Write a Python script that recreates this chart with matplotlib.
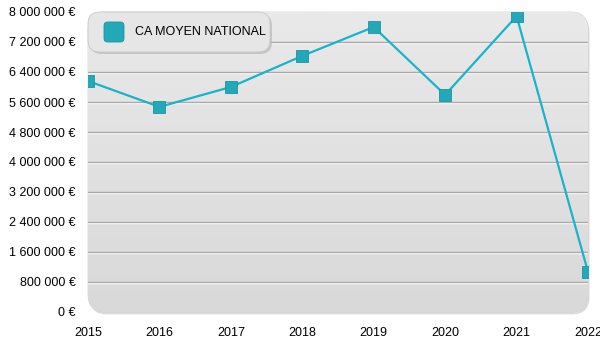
import numpy as np
import matplotlib.pyplot as plt
from matplotlib.patches import FancyBboxPatch
from matplotlib.transforms import offset_copy

plt.rcParams['font.family'] = ['Liberation Sans', 'DejaVu Sans']

years = [2015, 2016, 2017, 2018, 2019, 2020, 2021, 2022]
ca_moyen = [6160000, 5470000, 6000000, 6830000, 7600000, 5790000, 7890000, 1070000]
y_ticks = np.arange(0, 8000001, 800000)
y_labels = ['{:,} €'.format(v).replace(',', ' ') for v in y_ticks]

line_col = '#19b4c9'
marker_col = '#22a8b6'

fig = plt.figure(figsize=(6, 3.5), dpi=100)
ax = fig.add_axes([88 / 600, 38 / 350, 500 / 600, 300 / 350])
ax.set_xlim(2015, 2022)
ax.set_ylim(0, 8000000)

# rounded panel with soft shadow
shadow = FancyBboxPatch((0.003, -0.008), 1.0, 1.0, boxstyle='round,pad=0,rounding_size=0.035',
                        transform=ax.transAxes, fc='#c4c4c4', ec='none', alpha=0.6,
                        zorder=0, clip_on=False, mutation_aspect=500 / 300)
ax.add_patch(shadow)
panel = FancyBboxPatch((0, 0), 1, 1, boxstyle='round,pad=0,rounding_size=0.035',
                       transform=ax.transAxes, fc='#e0e0e0', ec='#d0d0d0', lw=0.5,
                       zorder=0.5, clip_on=False, mutation_aspect=500 / 300)
ax.add_patch(panel)
grad = np.linspace(0, 1, 256).reshape(-1, 1)
img = ax.imshow(grad, extent=[0, 1, 0, 1], transform=ax.transAxes, aspect='auto',
                cmap=plt.matplotlib.colors.LinearSegmentedColormap.from_list('bg', ['#d9d9d9', '#e9e9e9']),
                origin='lower', zorder=0.6)
img.set_clip_path(panel)

# grid lines: grey with a white highlight underneath
white_tr = offset_copy(ax.transData, fig=fig, x=0, y=-1, units='dots')
for v in y_ticks[1:-1]:
    ax.plot([2015, 2022], [v, v], color='white', lw=1, zorder=1, transform=white_tr)
    ax.axhline(v, color='#a9a9a9', lw=1, zorder=1.1)

ax.plot(years, ca_moyen, color=line_col, lw=1.6, zorder=3)
ax.plot(years, ca_moyen, ls='none', marker='s', ms=8, mfc=marker_col, mec='#1a96a3',
        mew=0.6, zorder=4)

ax.set_yticks(y_ticks)
ax.set_yticklabels(y_labels)
ax.set_xticks(years)
ax.tick_params(length=0, labelsize=9, colors='black')
ax.tick_params(axis='y', pad=9)
ax.tick_params(axis='x', pad=11)
for s in ax.spines.values():
    s.set_visible(False)

# legend box
lsh = FancyBboxPatch((90 / 600, 296 / 350), 182 / 600, 40 / 350,
                     boxstyle='round,pad=0,rounding_size=0.02', transform=fig.transFigure,
                     fc='#b0b0b0', ec='none', alpha=0.6, zorder=5, mutation_aspect=600 / 350)
fig.patches.append(lsh)
lbox = FancyBboxPatch((88 / 600, 298 / 350), 182 / 600, 40 / 350,
                      boxstyle='round,pad=0,rounding_size=0.02', transform=fig.transFigure,
                      fc='#e6e6e6', ec='#c8c8c8', lw=0.6, zorder=6, mutation_aspect=600 / 350)
fig.patches.append(lbox)
lmark = FancyBboxPatch((104 / 600, 308 / 350), 20 / 600, 20 / 350,
                       boxstyle='round,pad=0,rounding_size=0.006', transform=fig.transFigure,
                       fc=marker_col, ec='#1a96a3', lw=0.6, zorder=7, mutation_aspect=600 / 350)
fig.patches.append(lmark)
fig.text(135 / 600, 318 / 350, 'CA MOYEN NATIONAL', fontsize=9, va='center', ha='left', zorder=8)

fig.savefig('out.png', dpi=100)
